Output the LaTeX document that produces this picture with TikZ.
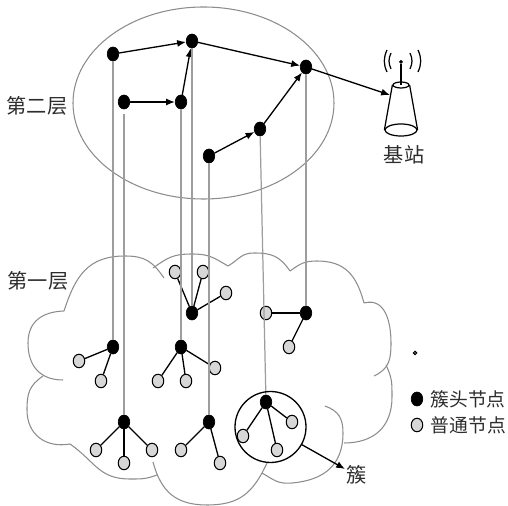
\documentclass[tikz,border=0pt]{standalone}
\usepackage{fontspec}
\usepackage{tikz}
\usetikzlibrary{arrows.meta,positioning,shapes.geometric}
\newfontfamily\cjk{Noto Sans CJK SC}
\definecolor{linegray}{RGB}{140,140,140}
\definecolor{leafgray}{RGB}{215,215,215}
\definecolor{textgray}{RGB}{45,45,45}
\tikzset{
  head/.style={draw=black,fill=black,ellipse,inner sep=0pt,minimum width=11.5*0.02cm,minimum height=14*0.02cm},
  leaf/.style={draw=black,fill=leafgray,ellipse,line width=0.6pt,inner sep=0pt,minimum width=11.5*0.02cm,minimum height=13.5*0.02cm},
  label/.style={font=\cjk\fontsize{11.5}{13}\selectfont,text=textgray,inner sep=0pt},
  keylabel/.style={font=\cjk\fontsize{10.7}{13}\selectfont,text=textgray,inner sep=0pt},
  cloudline/.style={draw=linegray,line width=0.6pt,looseness=1.15},
  uplink/.style={draw=linegray!85,line width=0.7pt},
  route/.style={-{Latex[length=5pt,width=4pt]},line width=0.75pt},
  edge/.style={line width=0.75pt}
}
\begin{document}
\begin{tikzpicture}[x=0.02cm,y=-0.02cm]
  \useasboundingbox (0,0) rectangle (508,506);
  % upper layer
  \node[draw=linegray,line width=0.6pt,ellipse,inner sep=0pt,minimum width=261*0.02cm,minimum height=192*0.02cm] (upper) at (203.5,103) {};
  \node[head] (a) at (113,54) {};
  \node[head] (b) at (192,41) {};
  \node[head] (c) at (124,102) {};
  \node[head] (d) at (181,102) {};
  \node[head] (e) at (306,67) {};
  \node[head] (f) at (260,129) {};
  \node[head] (g) at (209,156) {};
  \draw[route] (a) -- (b);
  \draw[route] (c) -- (d);
  \draw[route] (d) -- (b);
  \draw[route] (b) -- (e);
  \draw[route] (g) -- (f);
  \draw[route] (f) -- (e);
  % cloud
  \draw[cloudline] (64,311) to[out=72,in=180] (125,256) to[out=0,in=125] (164,278);
  \draw[cloudline] (153,268) to[out=35,in=180] (192,254) to[out=0,in=150] (228,266);
  \draw[cloudline] (228,266) to[out=30,in=180] (254,253) to[out=0,in=125] (290,271);
  \draw[cloudline] (290,271) to[out=35,in=180] (317,261) to[out=0,in=105] (364,303);
  \draw[cloudline] (364,303) to[out=15,in=90] (391,343) to[out=-90,in=25] (374,376);
  \draw[cloudline] (386,365) to[out=-65,in=90] (392,397) to[out=-90,in=0] (344,443);
  \draw[cloudline] (325,406) to[out=-20,in=90] (343,433) to[out=-90,in=5] (292,483) to[out=185,in=-30] (262,473);
  \draw[cloudline] (267,463) to[out=-115,in=0] (207,505) to[out=180,in=-75] (153,462);
  \draw[cloudline] (157,475) to[out=200,in=0] (130,479) to[out=180,in=-35] (70,444);
  \draw[cloudline] (70,444) to[out=190,in=-90] (27,410) to[out=90,in=215] (43,376);
  \draw[cloudline] (63,380) to[out=180,in=-90] (28,343) to[out=90,in=182] (64,311);
  % lower layer
  \node[head] (h1) at (113,347) {};
  \node[leaf] (h1a) at (79,361) {};
  \node[leaf] (h1b) at (101,381) {};
  \node[head] (h2) at (181,347) {};
  \node[leaf] (h2a) at (158,381) {};
  \node[leaf] (h2b) at (186,381) {};
  \node[leaf] (h2c) at (215,368) {};
  \node[head] (h3) at (192,313) {};
  \node[leaf] (h3a) at (175,272) {};
  \node[leaf] (h3b) at (203,272) {};
  \node[leaf] (h3c) at (226,293) {};
  \node[head] (h4) at (124,422) {};
  \node[leaf] (h4a) at (96,450) {};
  \node[leaf] (h4b) at (124,463) {};
  \node[leaf] (h4c) at (152,450) {};
  \node[head] (h5) at (209,422) {};
  \node[leaf] (h5a) at (181,450) {};
  \node[leaf] (h5b) at (220,463) {};
  \node[head] (h6) at (306,313) {};
  \node[leaf] (h6a) at (266,313) {};
  \node[leaf] (h6b) at (289,347) {};
  \node[head] (h7) at (266,402) {};
  \node[leaf] (h7a) at (243,436) {};
  \node[leaf] (h7b) at (277,450) {};
  \node[leaf] (h7c) at (292,422) {};
  \draw[edge] (h1) -- (h1a);
  \draw[edge] (h1) -- (h1b);
  \draw[edge] (h2) -- (h2a);
  \draw[edge] (h2) -- (h2b);
  \draw[edge] (h2) -- (h2c);
  \draw[edge] (h3) -- (h3a);
  \draw[edge] (h3) -- (h3b);
  \draw[edge] (h3) -- (h3c);
  \draw[edge] (h4) -- (h4a);
  \draw[edge] (h4) -- (h4b);
  \draw[edge] (h4) -- (h4c);
  \draw[edge] (h5) -- (h5a);
  \draw[edge] (h5) -- (h5b);
  \draw[edge] (h6) -- (h6a);
  \draw[edge] (h6) -- (h6b);
  \draw[edge] (h7) -- (h7a);
  \draw[edge] (h7) -- (h7b);
  \draw[edge] (h7) -- (h7c);
  % links between layers
  \draw[uplink] (a) -- (h1);
  \draw[uplink] (d) -- (h2);
  \draw[uplink] (b) -- (h3);
  \draw[uplink,shorten <=5*0.02cm] (c) -- (h4);
  \draw[uplink] (g) -- (h5);
  \draw[uplink] (e) -- (h6);
  \draw[uplink] (f) -- (h7);
  % cluster
  \node[draw=black,circle,line width=0.75pt,inner sep=0pt,minimum size=71*0.02cm] (cluster) at (270.5,427) {};
  \coordinate (clustertip) at (345,469);
  \draw[route] (cluster) -- (clustertip);
  \node[label] (clusterlabel) at (357,475) {簇};
  % base station
  \node[draw=black,line width=0.7pt,ellipse,inner sep=0pt,minimum width=16*0.02cm,minimum height=6*0.02cm] (basetop) at (401,85) {};
  \node[draw=black,line width=0.7pt,ellipse,inner sep=0pt,minimum width=32*0.02cm,minimum height=12*0.02cm] (basebottom) at (401,130) {};
  \draw[line width=0.7pt] (basetop.west) -- (basebottom.west);
  \draw[line width=0.7pt] (basetop.east) -- (basebottom.east);
  \node[draw=black,fill=black,circle,inner sep=0pt,minimum size=3*0.02cm] (antenna) at (401,62) {};
  \draw[line width=0.7pt] (basetop.center) -- (antenna);
  \draw[line width=0.7pt] (391,53) to[out=245,in=115] (391,69);
  \draw[line width=0.7pt] (387,50) to[out=245,in=115] (387,72);
  \draw[line width=0.7pt] (410,53) to[out=-65,in=65] (410,69);
  \draw[line width=0.7pt] (418,50) to[out=-65,in=65] (418,72);
  \coordinate (basein) at (390,95);
  \draw[route] (e) -- (basein);
  \node[label] (baselabel) at (404,155) {基站};
  % labels and legend
  \node[label] (layertwo) at (37,106) {第二层};
  \node[label] (layerone) at (38,281) {第一层};
  \node[draw=black,fill=gray,circle,line width=0.6pt,inner sep=0pt,minimum size=3.5*0.02cm] (stray) at (415,353) {};
  \node[head] (keyhead) at (417,399) {};
  \node[leaf] (keyleaf) at (417,425) {};
  \node[keylabel,right=7*0.02cm of keyhead] (keyheadtext) {簇头节点};
  \node[keylabel,right=7*0.02cm of keyleaf] (keyleaftext) {普通节点};
\end{tikzpicture}
\end{document}
